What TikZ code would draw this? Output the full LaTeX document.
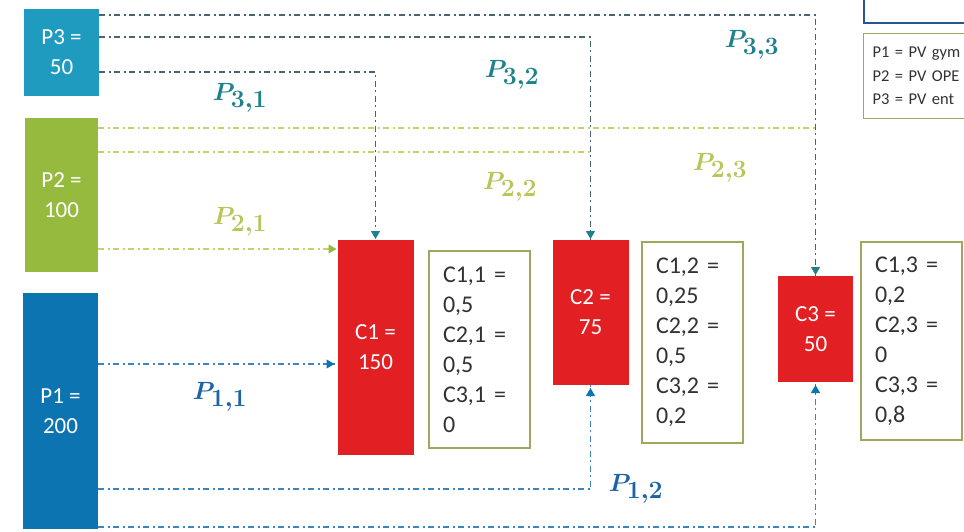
\documentclass[tikz,border=0pt]{standalone}
\usepackage{fontspec}
\setmainfont{Carlito}
\usetikzlibrary{arrows.meta,calc}
\definecolor{cthree}{RGB}{32,155,192}
\definecolor{ctwo}{RGB}{150,186,62}
\definecolor{cone}{RGB}{12,116,176}
\definecolor{cred}{RGB}{226,32,36}
\definecolor{lthree}{RGB}{30,130,140}
\definecolor{ltwo}{RGB}{186,196,88}
\definecolor{lone}{RGB}{28,100,166}
\definecolor{fthree}{RGB}{72,100,112}
\definecolor{ftwo}{RGB}{200,208,110}
\definecolor{fone}{RGB}{62,132,192}
\definecolor{cbox}{RGB}{160,166,92}
\definecolor{clegblue}{RGB}{40,84,146}
\definecolor{ctext}{RGB}{50,50,50}
\tikzset{
  srcbox/.style={inner sep=0pt, outer sep=0pt, text=white, align=center,
    font=\fontsize{23}{30}\selectfont},
  conbox/.style={srcbox, fill=cred, minimum width=76pt},
  coefbox/.style={draw=cbox, line width=1.1pt, fill=white, outer sep=0pt,
    text width=73pt, inner xsep=14pt, inner ysep=0pt, align=left,
    minimum height=198pt, text=ctext, font=\fontsize{24}{30}\selectfont},
  flow/.style={line width=1.8pt, dash pattern=on 6pt off 3.5pt on 2pt off 3.5pt},
  flowthree/.style={flow, draw=fthree},
  flowtwo/.style={flow, draw=ftwo},
  flowone/.style={flow, draw=fone},
  tipthree/.style={-{Triangle[length=8pt,width=9pt]}, shorten >=1pt},
  tiptwo/.style={-{Triangle[length=8pt,width=9pt]}, shorten >=1pt},
  tipone/.style={-{Triangle[length=8pt,width=9pt]}, shorten >=3pt},
  plab/.style={font=\fontsize{34}{36}\selectfont\boldmath, inner sep=0pt}
}
\begin{document}
\begin{tikzpicture}[x=1pt,y=-1pt]
\useasboundingbox (0,0) rectangle (964,531);
\clip (0,0) rectangle (964,531);

% source boxes
\node[srcbox, fill=cthree, minimum width=75pt, minimum height=87pt] (P3) at (61.5,52.5) {P3 =\\50};
\node[srcbox, fill=ctwo, minimum width=73pt, minimum height=154pt] (P2) at (61.5,195) {P2 =\\100};
\node[srcbox, fill=cone, minimum width=75pt, minimum height=236pt] (P1) at (60.5,411) {P1 =\\200};

% consumer boxes
\node[conbox, minimum height=215pt] (C1) at (375.5,347.5) {C1 =\\150};
\node[conbox, minimum height=145pt] (C2) at (590.5,312.5) {C2 =\\75};
\node[conbox, minimum width=75pt, minimum height=106pt] (C3) at (815.5,329) {C3 =\\50};

% coefficient boxes
\node[coefbox, minimum height=197pt] (T1) at (479.5,349.5) {C1,1 =\\0,5\\C2,1 =\\0,5\\C3,1 =\\0};
\node[coefbox, minimum height=201pt] (T2) at (692.5,342.5) {C1,2 =\\0,25\\C2,2 =\\0,5\\C3,2 =\\0,2};
\node[coefbox, minimum height=198pt] (T3) at (911.5,341) {C1,3 =\\0,2\\C2,3 =\\0\\C3,3 =\\0,8};

% legend boxes
\node[draw=clegblue, line width=1.6pt, fill=white, minimum width=130pt, minimum height=40pt, anchor=south west, inner sep=0pt] (L0) at (863,24) {};
\node[draw=cbox, line width=1.1pt, fill=white, anchor=north west, text width=112pt, inner xsep=9pt, inner ysep=0pt,
  minimum height=85pt, align=left, text=ctext, font=\fontsize{16.5}{23.5}\selectfont] (L1) at (863,33)
  {P1 = PV gym\\P2 = PV OPE\\P3 = PV ent};

% P3 flows
\draw[flowthree] ($(P3.north east)+(0,6)$) coordinate (a33) -| (C3.north);
\draw[flowthree] ($(P3.north east)+(0,28)$) coordinate (a32) -| (C2.north);
\draw[flowthree] ($(P3.north east)+(0,63)$) coordinate (a31) -| (C1.north);

% P2 flows
\draw[flowtwo] ($(P2.north east)+(0,10)$) coordinate (a23) -- (a23 -| C3.north);
\draw[flowtwo] ($(P2.north east)+(0,34)$) coordinate (a22) -- (a22 -| C2.north);
\draw[flowtwo] ($(P2.north east)+(0,131)$) coordinate (a21) -- (a21 -| C1.west);

% P1 flows
\draw[flowone] ($(P1.north east)+(0,71)$) coordinate (a11) -- (a11 -| C1.west);
\draw[flowone] ($(P1.north east)+(0,196)$) coordinate (a12) -| (C2.south);
\draw[flowone] ($(P1.north east)+(0,234)$) coordinate (a13) -| (C3.south);

% arrowheads
\draw[draw=lthree, fill=lthree, tipthree, line width=1pt] ($(C1.north)+(0,-9)$) -- (C1.north);
\draw[draw=lthree, fill=lthree, tipthree, line width=1pt] ($(C2.north)+(0,-9)$) -- (C2.north);
\draw[draw=lthree, fill=lthree, tipthree, line width=1pt] ($(C3.north)+(0,-9)$) -- (C3.north);
\draw[draw=ctwo, fill=ctwo, tiptwo, line width=1pt] ($(a21 -| C1.west)+(-9,0)$) -- (a21 -| C1.west);
\draw[draw=cone, fill=cone, tipone, line width=1pt] ($(a11 -| C1.west)+(-11,0)$) -- (a11 -| C1.west);
\draw[draw=cone, fill=cone, tipone, line width=1pt] ($(C2.south)+(0,11)$) -- (C2.south);
\draw[draw=cone, fill=cone, tipone, line width=1pt] ($(C3.south)+(0,11)$) -- (C3.south);

% labels
\node[plab, text=lthree] (l31) at (240,98) {$P_{3,1}$};
\node[plab, text=lthree] (l32) at (512,75) {$P_{3,2}$};
\node[plab, text=lthree] (l33) at (752,45) {$P_{3,3}$};
\node[plab, text=ltwo] (l21) at (240,222) {$P_{2,1}$};
\node[plab, text=ltwo] (l22) at (510,187) {$P_{2,2}$};
\node[plab, text=ltwo] (l23) at (720,168) {$P_{2,3}$};
\node[plab, text=lone] (l11) at (220,397) {$P_{1,1}$};
\node[plab, text=lone] (l12) at (636,489) {$P_{1,2}$};
\end{tikzpicture}
\end{document}
